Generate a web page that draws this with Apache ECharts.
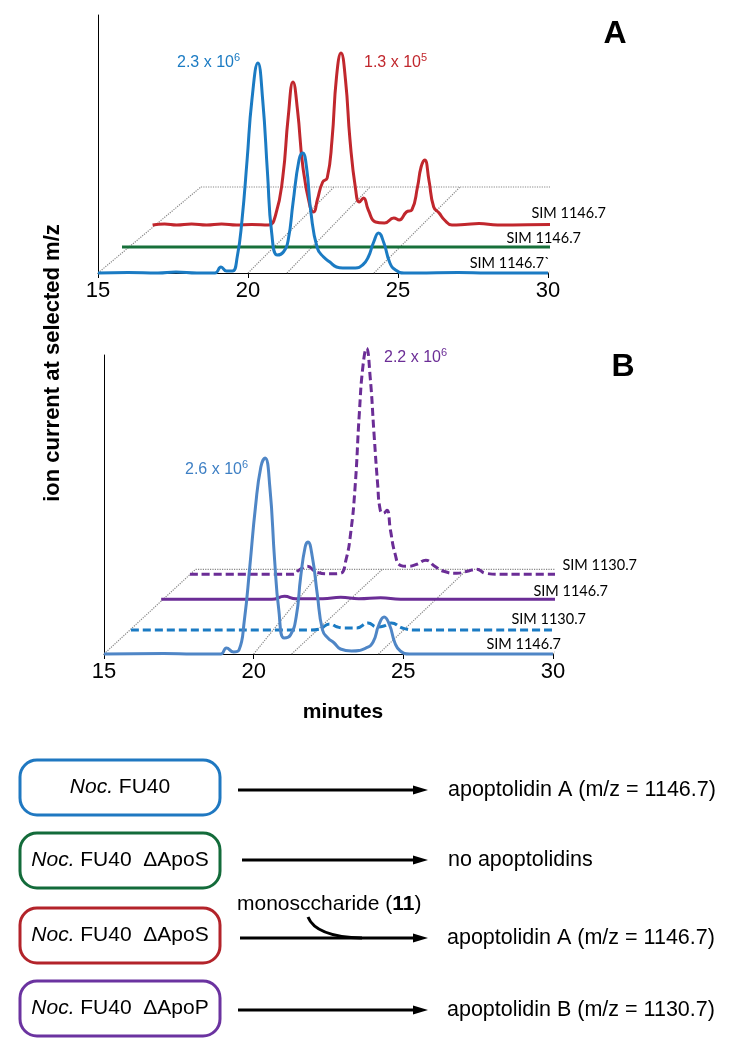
<!DOCTYPE html>
<html><head><meta charset="utf-8">
<script src="https://cdn.jsdelivr.net/npm/echarts@6/dist/echarts.min.js"></script>
<style>html,body{margin:0;padding:0;background:#fff}#c{width:730px;height:1050px}</style>
</head><body><div id="c"></div>
<script>
// ---------------- data ----------------
const tickMinutes = [15, 20, 25, 30];
// Panel A (SIM traces) : [minutes, ion current (arb. units)]
const aBlue1146 = [[15,0],[16,0.5],[17,0],[17.6,1],[18.3,0],[18.9,0],[19.1,6],[19.28,2],[19.48,2],[19.64,16],[19.8,53],[19.97,113],[20.13,173],[20.33,210],[20.49,173],[20.65,100],[20.79,40],[20.98,18],[21.18,21],[21.34,33],[21.5,70],[21.7,113],[21.82,120],[21.95,106],[22.1,60],[22.31,25],[22.52,16],[22.73,11],[22.95,6],[23.16,5],[23.58,5],[23.82,8],[24.01,16],[24.19,31],[24.35,40],[24.53,30],[24.73,10],[24.92,3],[25.2,0],[25.6,0],[27,0.5],[28,0],[30,0]];
const aGreen1146 = [[15,0],[30,0]];
const aRed1146 = [[15,0],[15.4,1],[15.8,0],[16.3,1],[16.8,0],[17.3,1],[17.8,0],[18.3,0.5],[18.86,0],[19.1,10],[19.34,48],[19.52,108],[19.68,143],[19.83,115],[20.01,58],[20.25,18],[20.37,13],[20.49,25],[20.67,43],[20.82,47],[20.98,85],[21.13,148],[21.28,172],[21.43,145],[21.58,85],[21.77,35],[21.89,23],[22.03,27],[22.19,15],[22.43,3],[22.73,2],[23.04,7],[23.22,5],[23.46,13],[23.64,15],[23.83,38],[23.95,58],[24.07,65],[24.21,45],[24.37,18],[24.55,12],[24.73,5],[24.98,0],[25.4,0.5],[25.88,1.5],[26.5,0],[28.5,0.5],[30,0]];
// Panel B
const bBlue1146 = [[15,0],[17,0.5],[18,0],[18.9,0],[19.09,6],[19.33,2],[19.51,4],[19.69,34],[19.87,87],[20.06,147],[20.24,187],[20.38,196],[20.54,167],[20.7,94],[20.84,44],[21.02,16],[21.23,19],[21.42,37],[21.57,77],[21.72,107],[21.81,112],[21.96,97],[22.12,61],[22.3,24],[22.48,16],[22.69,11],[22.9,5],[23.27,3],[23.75,6],[23.99,12],[24.18,29],[24.36,37],[24.54,29],[24.72,11],[24.9,3],[25.2,0],[25.6,0],[30,0]];
const bBlue1130 = [[15,0],[20.6,0],[21.0,0],[21.3,1],[21.64,6],[21.9,3],[22.13,2],[22.55,2],[22.92,7],[23.22,3],[23.45,4],[23.7,7],[24.07,2],[24.5,0],[25,0],[30,0]];
const bPurple1146 = [[15,0],[18.3,0],[18.7,0],[19.12,3],[19.5,0.5],[20.4,0.5],[21.0,2],[21.6,0.5],[22.33,1.5],[23,0],[23.5,0],[30,0]];
const bPurple1130 = [[15,0],[18.0,0],[18.45,0],[18.64,4],[18.92,8],[19.24,2],[19.67,0.5],[20.03,1],[20.21,14],[20.37,41],[20.52,88],[20.66,161],[20.78,208],[20.9,226],[21.02,198],[21.15,141],[21.27,91],[21.36,64],[21.46,61],[21.58,64],[21.7,44],[21.85,21],[22.03,9],[22.27,8],[22.58,10],[22.88,14],[23.18,8],[23.48,3],[23.91,1],[24.27,3],[24.58,5],[24.88,1],[25.36,0],[25.8,0],[30,0]];
// floor grid lines (front minute -> back minute)
const floorFrontA = [15, 20, 21.3, 24.2, 30];
const floorBackA  = [18.43, 22.87, 24.07, 27.07, 33.43];
const floorFrontB = [15, 20, 21.27, 24.17, 30];
const floorBackB  = [18.06, 22.3, 24.3, 27.14, 33.06];
const peakLabels = ['2.3 x 10|6', '1.3 x 10|5', '2.6 x 10|6', '2.2 x 10|6'];
const simLabelsA = ['SIM 1146.7', 'SIM 1146.7', 'SIM 1146.7`'];
const simLabelsB = ['SIM 1130.7', 'SIM 1146.7', 'SIM 1130.7', 'SIM 1146.7'];

// ---------------- layout (pseudo-3D offsets, in axis units) ----------------
const offA = [[0,0],[0.8,26],[1.82,48]], backA = [3.43, 86];
const offB = [[0,0],[0.9,24],[1.91,54.7],[2.87,79.7]], backB = [3.06, 84.7];
const FONT = 'Liberation Sans, Arial, sans-serif';
const C = {blue:'#1b7bc3', green:'#17703a', red:'#c1272d', steel:'#4f86c6', purple:'#6b2d96'};

const chart = echarts.init(document.getElementById('c'), null, {renderer:'canvas'});

function xAx(g){ return {gridIndex:g, type:'value', min:15, max:30, interval:5,
  axisLine:{show:true, lineStyle:{color:'#000', width:1}},
  axisTick:{show:true, length:5, lineStyle:{color:'#000'}},
  axisLabel:{fontSize:22, color:'#000', fontFamily:FONT, margin:7, showMinLabel:true, showMaxLabel:true,
    customValues: tickMinutes},
  splitLine:{show:false}}; }
function yAx(g, max){ return {gridIndex:g, type:'value', min:0, max:max,
  axisLine:{show:true, lineStyle:{color:'#000', width:1}}, axisTick:{show:false},
  axisLabel:{show:false}, splitLine:{show:false}}; }

function trace(g, data, off, color, dashed, z){
  return {type:'line', xAxisIndex:g, yAxisIndex:g, clip:false, silent:true,
    data: data.map(p => [p[0] + off[0], p[1] + off[1]]),
    smooth:0.5, showSymbol:false, symbol:'none', z:z,
    lineStyle:{color:color, width:3, type: dashed ? [8,4] : 'solid', cap:'butt', join:'round'}};
}
function floor(g, front, back, bk){
  const s = [];
  const dl = {type:'dotted', color:'#888', width:1.2};
  for (let i = 0; i < front.length; i++) {
    s.push({type:'line', xAxisIndex:g, yAxisIndex:g, clip:false, silent:true, showSymbol:false, symbol:'none', z:1,
      data:[[front[i],0],[back[i],bk[1]]], lineStyle:dl});
  }
  s.push({type:'line', xAxisIndex:g, yAxisIndex:g, clip:false, silent:true, showSymbol:false, symbol:'none', z:1,
    data:[[15+bk[0],bk[1]],[30+bk[0],bk[1]]], lineStyle:dl});
  return s;
}

const series = [].concat(
  floor(0, floorFrontA, floorBackA, backA),
  [trace(0, aRed1146, offA[2], C.red, false, 3),
   trace(0, aGreen1146, offA[1], C.green, false, 4),
   trace(0, aBlue1146, offA[0], C.blue, false, 5)],
  floor(1, floorFrontB, floorBackB, backB),
  [trace(1, bPurple1130, offB[3], C.purple, true, 3),
   trace(1, bPurple1146, offB[2], C.purple, false, 4),
   trace(1, bBlue1130, offB[1], C.blue, true, 5),
   trace(1, bBlue1146, offB[0], C.steel, false, 6)]
);

// ---------------- texts & scheme ----------------
function txt(x, y, text, o){ return {type:'text', x, y, z:100, style:Object.assign({text, fontFamily:FONT, fontSize:21.5, fill:'#000', align:'left', verticalAlign:'middle'}, o||{})}; }
function peak(x, y, lab, color){
  const [m, s] = lab.split('|');
  return {type:'text', x, y, z:100, style:{text:'{a|'+m+'}{s|'+s+'}', fill:color, fontFamily:FONT, align:'left', verticalAlign:'middle',
    rich:{a:{fontSize:16, lineHeight:22, fill:color, fontFamily:FONT}, s:{fontSize:11, verticalAlign:'top', fill:color, fontFamily:FONT}}}};
}
function sim(x, y, t){ return txt(x, y, t, {fontFamily:'Lato, sans-serif', fontSize:14.5, align:'right'}); }
function box(y, color, label){
  return [{type:'rect', z:100, shape:{x:20, y:y, width:200, height:55, r:17}, style:{fill:'none', stroke:color, lineWidth:3}},
    {type:'text', x:120, y:y+27.5, z:100, style:{text:label, align:'center', verticalAlign:'middle', fill:'#000',
      rich:{i:{fontStyle:'italic', fontSize:21, fontFamily:FONT, fill:'#000'}, n:{fontSize:21, fontFamily:FONT, fill:'#000'}}}}];
}
function arrow(x1, x2, y){
  return [{type:'line', z:100, shape:{x1, y1:y, x2:x2-12, y2:y}, style:{stroke:'#000', lineWidth:3}},
    {type:'polygon', z:100, shape:{points:[[x2,y],[x2-15,y-4.5],[x2-15,y+4.5]]}, style:{fill:'#000'}}];
}

const graphic = [].concat(
  [txt(615, 34, 'A', {fontSize:32, fontWeight:'bold', align:'center'}),
   txt(623, 367, 'B', {fontSize:32, fontWeight:'bold', align:'center'}),
   peak(177, 63, peakLabels[0], C.blue), peak(364, 63, peakLabels[1], C.red),
   peak(185, 470, peakLabels[2], '#3d7fc4'), peak(384, 358, peakLabels[3], C.purple),
   sim(606, 213, simLabelsA[0]), sim(581, 238, simLabelsA[1]), sim(550, 263, simLabelsA[2]),
   sim(637, 565, simLabelsB[0]), sim(608, 591, simLabelsB[1]), sim(586, 619, simLabelsB[2]), sim(561, 644, simLabelsB[3]),
   {type:'text', x:53, y:363, rotation:Math.PI/2, z:100, style:{text:'ion current at selected m/z', fontFamily:FONT, fontSize:22, fontWeight:'bold', fill:'#000', align:'center', verticalAlign:'middle'}},
   txt(343, 712, 'minutes', {fontSize:21, fontWeight:'bold', align:'center'})],
  box(760, '#1f78c1', '{i|Noc.}{n| FU40}'),
  box(833, '#136b3a', '{i|Noc.}{n| FU40  \u0394ApoS}'),
  box(908, '#b3232a', '{i|Noc.}{n| FU40  \u0394ApoS}'),
  box(981, '#6b33a0', '{i|Noc.}{n| FU40  \u0394ApoP}'),
  arrow(238, 428, 790), arrow(242, 428, 860), arrow(240, 428, 938), arrow(238, 428, 1010),
  [txt(448, 790, 'apoptolidin A (m/z = 1146.7)'),
   txt(448, 860, 'no apoptolidins'),
   txt(447, 938, 'apoptolidin A (m/z = 1146.7)'),
   txt(447, 1010, 'apoptolidin B (m/z = 1130.7)'),
   {type:'text', x:237, y:904, z:100, style:{text:'{n|monosccharide (}{b|11}{n|)}', align:'left', verticalAlign:'middle', fill:'#000',
     rich:{n:{fontSize:21, fontFamily:FONT, fill:'#000'}, b:{fontSize:21, fontFamily:FONT, fontWeight:'bold', fill:'#000'}}}},
   {type:'bezierCurve', z:100, shape:{x1:308, y1:917, cpx1:316, cpy1:937, x2:362, y2:938}, style:{stroke:'#000', lineWidth:3, fill:'none'}}]
);

chart.setOption({
  animation:false,
  backgroundColor:'#fff',
  grid:[{left:98, right:182, top:15, bottom:777},
        {left:104, right:177, top:355, bottom:396}],
  xAxis:[xAx(0), xAx(1)],
  yAxis:[yAx(0, 258), yAx(1, 299)],
  series: series,
  graphic: graphic
});
</script>
</body></html>
